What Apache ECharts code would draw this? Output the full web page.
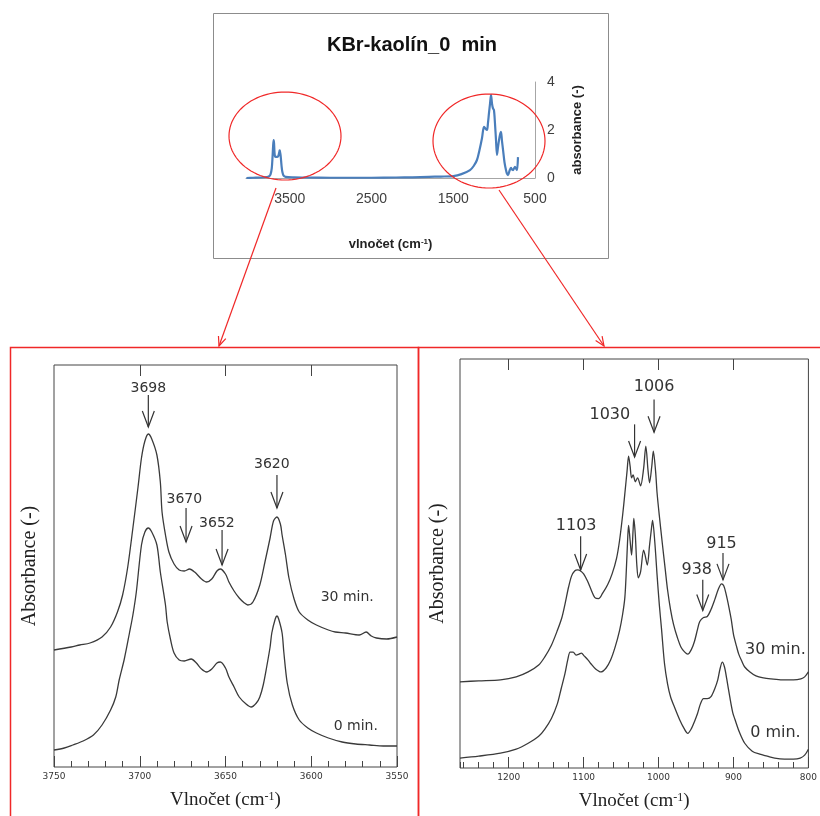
<!DOCTYPE html>
<html><head><meta charset="utf-8">
<script src="https://cdn.jsdelivr.net/npm/echarts@6/dist/echarts.min.js"></script>
<style>html,body{margin:0;padding:0;background:#fff}#c{width:820px;height:816px}</style>
</head><body><div id="c"></div>
<script>
// ---------------- DATA ----------------
// Overview spectrum (KBr-kaolín_0 min), wavenumber (cm-1) vs absorbance
const overviewWave = [4030,3950,3850,3780,3750,3735,3720,3710,3703,3697,3692,3686,3680,3670,3656,3640,3630,3623,3619,3612,3600,3590,3575,3550,3450,3300,3000,2500,2200,2000,1800,1650,1500,1400,1295,1250,1210,1180,1148,1124,1105,1087,1075,1063,1050,1038,1026,1014,1002,990,977,965,952,940,928,916,904,891,873,855,843,830,812,794,782,769,757,745,733,720,708];
const overviewAbs  = [0.00,0.01,0.02,0.04,0.08,0.15,0.40,0.90,1.35,1.58,1.45,1.05,0.90,0.88,0.88,0.92,1.05,1.15,1.17,0.95,0.50,0.25,0.10,0.05,0.03,0.02,0.01,0.01,0.02,0.03,0.05,0.06,0.08,0.16,0.33,0.50,0.75,1.15,1.67,2.13,2.05,2.00,2.30,2.70,3.10,3.46,3.10,2.90,2.83,2.30,1.58,0.96,1.30,1.58,1.80,1.92,1.55,1.17,0.65,0.33,0.18,0.12,0.30,0.42,0.35,0.33,0.40,0.46,0.40,0.33,0.87];
const overviewTicks = [500,1500,2500,3500];

// OH region (3750-3550 cm-1), arbitrary absorbance units
const ohWave30 = [3750,3740,3735,3729,3722,3717,3713,3710,3707,3704,3701,3699,3697,3695,3693,3690,3688,3687,3685,3683,3680,3677,3674,3671,3668,3664,3661,3658,3655,3653,3650,3648,3645,3642,3639,3637,3634,3630,3627,3624,3622,3620,3618,3617,3615,3613,3610,3607,3602,3597,3590,3586,3580,3572,3568,3565,3562,3556,3550];
const ohAbs30  = [1.17,1.20,1.22,1.24,1.30,1.40,1.55,1.72,2.00,2.39,2.80,3.09,3.26,3.33,3.28,3.12,2.85,2.55,2.32,2.15,2.03,1.97,1.96,1.98,1.95,1.88,1.85,1.88,1.96,1.98,1.93,1.85,1.76,1.69,1.64,1.62,1.65,1.82,2.05,2.29,2.46,2.50,2.43,2.32,2.12,1.89,1.68,1.55,1.47,1.42,1.37,1.35,1.34,1.32,1.35,1.31,1.29,1.28,1.30];
const ohWave0  = [3750,3744,3739,3733,3727,3722,3717,3714,3712,3709,3706,3704,3702,3699,3697,3695,3693,3690,3688,3685,3684,3682,3680,3677,3674,3670,3667,3664,3661,3658,3655,3653,3650,3648,3645,3642,3638,3635,3632,3630,3628,3626,3624,3623,3621,3620,3619,3617,3616,3614,3611,3607,3602,3597,3590,3582,3574,3566,3558,3550];
const ohAbs0   = [0.17,0.19,0.22,0.26,0.32,0.42,0.57,0.70,0.87,1.08,1.34,1.52,1.75,2.22,2.35,2.39,2.35,2.22,1.95,1.62,1.45,1.27,1.14,1.07,1.06,1.08,1.04,0.98,0.95,0.98,1.04,1.05,0.99,0.90,0.80,0.70,0.63,0.60,0.64,0.70,0.82,1.00,1.20,1.34,1.48,1.51,1.48,1.34,1.15,0.84,0.62,0.47,0.39,0.34,0.29,0.25,0.23,0.22,0.21,0.21];
const ohTopTicks = [3600,3650,3700];

// Si-O region (1265-800 cm-1), arbitrary absorbance units
const siWave30 = [1265,1240,1211,1190,1174,1160,1152,1143,1135,1129,1125,1120,1116,1112,1108,1104,1100,1095,1090,1085,1080,1075,1068,1062,1056,1052,1048,1045,1042,1040,1038,1036,1034,1031,1028,1024,1020,1017,1014,1012,1009,1007,1004,1002,999,995,991,988,984,980,975,970,965,961,956,952,948,945,940,935,930,925,920,916,913,910,906,903,900,896,893,889,885,878,870,860,850,835,820,810,805,800];
const siAbs30  = [0.87,0.88,0.89,0.92,0.97,1.04,1.12,1.24,1.39,1.52,1.65,1.83,1.94,1.99,2.00,1.99,1.96,1.89,1.80,1.72,1.71,1.76,1.85,1.96,2.12,2.30,2.55,2.77,3.00,3.15,3.05,2.93,2.96,2.89,2.93,2.85,3.02,3.25,3.00,2.88,3.05,3.20,3.00,2.78,2.55,2.27,2.00,1.80,1.60,1.45,1.32,1.22,1.17,1.15,1.20,1.28,1.40,1.48,1.52,1.53,1.60,1.70,1.81,1.86,1.84,1.76,1.62,1.50,1.35,1.23,1.15,1.08,1.02,0.97,0.93,0.91,0.90,0.89,0.89,0.90,0.92,0.97];
const siWave0  = [1265,1240,1211,1190,1174,1160,1152,1143,1135,1130,1125,1121,1118,1114,1110,1106,1103,1099,1094,1090,1084,1077,1070,1064,1058,1052,1048,1045,1043,1041,1040,1038,1036,1034,1033,1031,1029,1027,1024,1020,1018,1015,1012,1009,1008,1005,1002,999,996,992,988,984,978,972,966,961,956,952,948,944,940,935,930,925,921,918,915,912,909,905,901,898,892,885,875,865,855,845,832,820,811,805,800];
const siAbs0   = [0.10,0.12,0.15,0.19,0.25,0.32,0.39,0.50,0.65,0.80,0.95,1.10,1.17,1.17,1.14,1.15,1.16,1.13,1.09,1.05,1.00,0.97,1.01,1.09,1.22,1.39,1.55,1.72,2.00,2.35,2.45,2.30,2.15,2.40,2.52,2.35,2.05,1.92,1.98,2.20,2.15,2.05,2.25,2.45,2.50,2.28,1.95,1.65,1.40,1.05,0.85,0.72,0.60,0.49,0.40,0.35,0.40,0.47,0.55,0.65,0.70,0.70,0.72,0.80,0.89,1.00,1.07,1.02,0.90,0.72,0.56,0.49,0.36,0.25,0.17,0.14,0.12,0.10,0.09,0.09,0.10,0.13,0.19];
const siMajorTicks = [800,900,1000,1100,1200];
const siTopTicks = [900,1000,1100,1200];

// Peak annotations: [label x, label y, arrow x, arrow top y, arrow tip y] (data units)
const ohPeakLabels = ['3698','3670','3652','3620'];
const ohPeakAnnot  = [[3695,3.79,3695,3.72,3.40],[3674,2.68,3673,2.59,2.25],[3655,2.44,3652,2.37,2.02],[3623,3.03,3620,2.92,2.59]];
const ohCurveLabels = ['30 min.','0 min.'];
const ohCurveLabelPos = [[3579,1.70],[3574,0.41]];
const siPeakLabels = ['1006','1030','1103','915','938'];
const siPeakAnnot  = [[1006,3.85,1006,3.72,3.39],[1065,3.57,1032,3.47,3.14],[1110,2.45,1104,2.34,2.00],[916,2.26,914,2.17,1.90],[949,2.00,941,1.90,1.59]];
const siCurveLabels = ['30 min.','0 min.'];
const siCurveLabelPos = [[844,1.19],[844,0.35]];

// ---------------- CHART ----------------
const zip = (a, b) => a.map((v, i) => [v, b[i]]);
const serif = '"Liberation Serif","Times New Roman",serif';
const sans = '"Liberation Sans",Arial,sans-serif';
const dv = '"DejaVu Sans",sans-serif';
const plain = v => String(v);

function arrowRender(labels, fontSize) {
  return function (params, api) {
    const i = params.dataIndex;
    const t = api.coord([api.value(0), api.value(1)]);
    const a1 = api.coord([api.value(2), api.value(3)]);
    const a2 = api.coord([api.value(2), api.value(4)]);
    return {
      type: 'group',
      children: [
        { type: 'text', style: { text: labels[i], x: t[0], y: t[1], align: 'center', verticalAlign: 'middle', textAlign: 'center', textVerticalAlign: 'middle', font: fontSize + 'px ' + dv, fill: '#333' } },
        { type: 'line', shape: { x1: a1[0], y1: a1[1], x2: a2[0], y2: a2[1] }, style: { stroke: '#333', lineWidth: 1.2 } },
        { type: 'polyline', shape: { points: [[a2[0] - 6, a2[1] - 16], [a2[0], a2[1]], [a2[0] + 6, a2[1] - 16]] }, style: { stroke: '#333', lineWidth: 1.2, fill: null } }
      ]
    };
  };
}
function textRender(labels, fontSize) {
  return function (params, api) {
    const i = params.dataIndex;
    const t = api.coord([api.value(0), api.value(1)]);
    return { type: 'text', style: { text: labels[i], x: t[0], y: t[1], align: 'center', verticalAlign: 'middle', textAlign: 'center', textVerticalAlign: 'middle', font: fontSize + 'px ' + dv, fill: '#333' } };
  };
}

function ellipsePts(cx, cy, rx, ry) {
  const p = [];
  for (let k = 0; k < 96; k++) { const t = k / 96 * Math.PI * 2; p.push([cx + rx * Math.cos(t), cy + ry * Math.sin(t)]); }
  return p;
}
function arrowHead(x1, y1, x2, y2, len, ang) {
  const a = Math.atan2(y1 - y2, x1 - x2);
  return [[x2 + len * Math.cos(a + ang), y2 + len * Math.sin(a + ang)], [x2, y2], [x2 + len * Math.cos(a - ang), y2 + len * Math.sin(a - ang)]];
}
const red = '#f02828';
const bottomTickStyle = { lineStyle: { color: '#444', width: 1 } };

const option = {
  animation: false,
  backgroundColor: '#fff',
  grid: [
    { left: 246, top: 82, width: 289, height: 96 },
    { left: 54, top: 365, width: 343, height: 402, show: true, borderColor: '#444', borderWidth: 1 },
    { left: 460, top: 359, width: 349, height: 413, show: true, borderColor: '#444', borderWidth: 1 }
  ],
  xAxis: [
    { gridIndex: 0, type: 'value', min: 500, max: 4035, inverse: true,
      axisLine: { show: true, lineStyle: { color: '#a6a6a6', width: 1 } }, axisTick: { show: false }, splitLine: { show: false },
      axisLabel: { customValues: overviewTicks, formatter: plain, margin: 14, fontSize: 14, color: '#404040', fontFamily: sans },
      name: 'vlnočet (cm{s|-1})', nameLocation: 'middle', nameGap: 60,
      nameTextStyle: { fontSize: 13, fontWeight: 'bold', color: '#222', fontFamily: sans, rich: { s: { fontSize: 8, fontWeight: 'bold', verticalAlign: 'top', color: '#222', fontFamily: sans } } } },
    { gridIndex: 1, type: 'value', min: 3550, max: 3750, interval: 50, inverse: true, position: 'bottom',
      axisLine: { show: false }, axisTick: { show: true, inside: true, length: 11, ...bottomTickStyle },
      minorTick: { show: true, splitNumber: 5, length: 6, lineStyle: { color: '#444' } }, splitLine: { show: false },
      axisLabel: { formatter: plain, margin: 5, fontSize: 9, color: '#333', fontFamily: dv },
      name: 'Vlnočet (cm{s|-1})', nameLocation: 'middle', nameGap: 24,
      nameTextStyle: { fontSize: 19, color: '#222', fontFamily: serif, rich: { s: { fontSize: 12, verticalAlign: 'top', color: '#222', fontFamily: serif } } } },
    { gridIndex: 1, type: 'value', min: 3550, max: 3750, interval: 50, inverse: true, position: 'top',
      axisLine: { show: false }, axisTick: { show: true, inside: true, length: 11, customValues: ohTopTicks, ...bottomTickStyle },
      axisLabel: { show: false }, splitLine: { show: false } },
    { gridIndex: 2, type: 'value', min: 800, max: 1265, interval: 20, inverse: true, position: 'bottom',
      axisLine: { show: false }, axisTick: { show: true, inside: true, length: 6, ...bottomTickStyle },
      axisLabel: { show: false }, splitLine: { show: false } },
    { gridIndex: 2, type: 'value', min: 800, max: 1265, inverse: true, position: 'bottom',
      axisLine: { show: false }, axisTick: { show: true, inside: true, length: 11, customValues: siMajorTicks, ...bottomTickStyle },
      axisLabel: { customValues: siMajorTicks, formatter: plain, margin: 5, fontSize: 9, color: '#333', fontFamily: dv }, splitLine: { show: false },
      name: 'Vlnočet (cm{s|-1})', nameLocation: 'middle', nameGap: 24,
      nameTextStyle: { fontSize: 19, color: '#222', fontFamily: serif, rich: { s: { fontSize: 12, verticalAlign: 'top', color: '#222', fontFamily: serif } } } },
    { gridIndex: 2, type: 'value', min: 800, max: 1265, inverse: true, position: 'top',
      axisLine: { show: false }, axisTick: { show: true, inside: true, length: 11, customValues: siTopTicks, ...bottomTickStyle },
      axisLabel: { show: false }, splitLine: { show: false } }
  ],
  yAxis: [
    { gridIndex: 0, type: 'value', min: 0, max: 4, interval: 2, position: 'right',
      axisLine: { show: true, lineStyle: { color: '#a6a6a6', width: 1 } }, axisTick: { show: false }, splitLine: { show: false },
      axisLabel: { margin: 12, fontSize: 14, color: '#404040', fontFamily: sans },
      name: 'absorbance (-)', nameLocation: 'middle', nameRotate: 90, nameGap: 36,
      nameTextStyle: { fontSize: 13, fontWeight: 'bold', color: '#222', fontFamily: sans } },
    { gridIndex: 1, type: 'value', min: 0, max: 4.02,
      axisLine: { show: false }, axisTick: { show: false }, axisLabel: { show: false }, splitLine: { show: false },
      name: 'Absorbance (-)', nameLocation: 'middle', nameRotate: 90, nameGap: 14,
      nameTextStyle: { fontSize: 20, color: '#222', fontFamily: serif } },
    { gridIndex: 2, type: 'value', min: 0, max: 4.13,
      axisLine: { show: false }, axisTick: { show: false }, axisLabel: { show: false }, splitLine: { show: false },
      name: 'Absorbance (-)', nameLocation: 'middle', nameRotate: 90, nameGap: 12,
      nameTextStyle: { fontSize: 20, color: '#222', fontFamily: serif } }
  ],
  series: [
    { type: 'line', xAxisIndex: 0, yAxisIndex: 0, data: zip(overviewWave, overviewAbs), showSymbol: false, smooth: 0.3,
      lineStyle: { color: '#4a7ebb', width: 2.2 } },
    { type: 'line', xAxisIndex: 1, yAxisIndex: 1, data: zip(ohWave30, ohAbs30), showSymbol: false, smooth: 0.3,
      lineStyle: { color: '#3a3a3a', width: 1.3 } },
    { type: 'line', xAxisIndex: 1, yAxisIndex: 1, data: zip(ohWave0, ohAbs0), showSymbol: false, smooth: 0.3,
      lineStyle: { color: '#3a3a3a', width: 1.3 } },
    { type: 'custom', xAxisIndex: 1, yAxisIndex: 1, data: ohPeakAnnot, renderItem: arrowRender(ohPeakLabels, 14), clip: false, z: 5 },
    { type: 'custom', xAxisIndex: 1, yAxisIndex: 1, data: ohCurveLabelPos, renderItem: textRender(ohCurveLabels, 14), clip: false, z: 5 },
    { type: 'line', xAxisIndex: 4, yAxisIndex: 2, data: zip(siWave30, siAbs30), showSymbol: false, smooth: 0.3,
      lineStyle: { color: '#3a3a3a', width: 1.3 } },
    { type: 'line', xAxisIndex: 4, yAxisIndex: 2, data: zip(siWave0, siAbs0), showSymbol: false, smooth: 0.3,
      lineStyle: { color: '#3a3a3a', width: 1.3 } },
    { type: 'custom', xAxisIndex: 4, yAxisIndex: 2, data: siPeakAnnot, renderItem: arrowRender(siPeakLabels, 16), clip: false, z: 5 },
    { type: 'custom', xAxisIndex: 4, yAxisIndex: 2, data: siCurveLabelPos, renderItem: textRender(siCurveLabels, 16), clip: false, z: 5 }
  ],
  graphic: [
    { type: 'rect', shape: { x: 213.5, y: 13.5, width: 395, height: 245 }, style: { fill: null, stroke: '#8c8c8c', lineWidth: 1 }, z: 0 },
    { type: 'text', x: 412, y: 45, style: { text: 'KBr-kaolín_0  min', font: 'bold 20px ' + sans, fill: '#111', align: 'center', verticalAlign: 'middle', textAlign: 'center', textVerticalAlign: 'middle' } },
    { type: 'polygon', shape: { points: ellipsePts(285, 136, 56, 44) }, style: { fill: null, stroke: red, lineWidth: 1.2 }, z: 10 },
    { type: 'polygon', shape: { points: ellipsePts(489, 141, 56, 47) }, style: { fill: null, stroke: red, lineWidth: 1.2 }, z: 10 },
    { type: 'line', shape: { x1: 276, y1: 188, x2: 219, y2: 346 }, style: { stroke: red, lineWidth: 1.2 }, z: 10 },
    { type: 'polyline', shape: { points: arrowHead(276, 188, 219, 346, 10, 0.4) }, style: { fill: null, stroke: red, lineWidth: 1.2 }, z: 10 },
    { type: 'line', shape: { x1: 499, y1: 190, x2: 604, y2: 346 }, style: { stroke: red, lineWidth: 1.2 }, z: 10 },
    { type: 'polyline', shape: { points: arrowHead(499, 190, 604, 346, 10, 0.4) }, style: { fill: null, stroke: red, lineWidth: 1.2 }, z: 10 },
    { type: 'rect', shape: { x: 10.5, y: 347.5, width: 408, height: 520 }, style: { fill: null, stroke: red, lineWidth: 1.5 }, z: 0 },
    { type: 'rect', shape: { x: 418.5, y: 347.5, width: 420, height: 520 }, style: { fill: null, stroke: red, lineWidth: 1.5 }, z: 0 }
  ]
};

const chart = echarts.init(document.getElementById('c'), null, { renderer: 'canvas' });
chart.setOption(option);
</script>
</body></html>
